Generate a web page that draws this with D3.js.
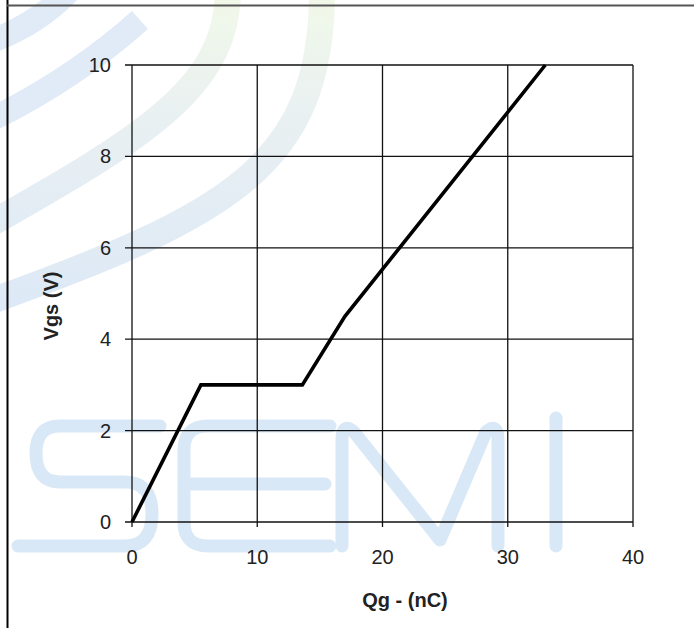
<!DOCTYPE html>
<html>
<head>
<meta charset="utf-8">
<script src="https://cdn.jsdelivr.net/npm/d3@7"></script>
<style>
	body { margin: 0; background: #fff; }
	text { font-family: "Liberation Sans", Arial, sans-serif; }
</style>
</head>
<body>
<div id="chart"></div>
<script>
	// gate charge curve
	const qg = [0, 5.5, 13.6, 17, 33];
	const vgs = [0, 3, 3, 4.5, 10];

	const xTicks = [0, 10, 20, 30, 40];
	const yTicks = [0, 2, 4, 6, 8, 10];
	const xTitle = "Qg - (nC)";
	const yTitle = "Vgs (V)";

	const width = 694;
	const height = 628;

	const svg = d3.select("#chart")
				.append("svg")
					.attr("width", width)
					.attr("height", height);

	// faint watermark behind everything
	const wm = svg.append("g").attr("fill", "none");
	const grad = svg.append("defs")
					.append("linearGradient")
						.attr("id", "band")
						.attr("gradientUnits", "userSpaceOnUse")
						.attr("x1", 0).attr("y1", 0)
						.attr("x2", 0).attr("y2", 300);
	grad.append("stop").attr("offset", "0%").attr("stop-color", "#f1f8e9");
	grad.append("stop").attr("offset", "40%").attr("stop-color", "#e9f0f2");
	grad.append("stop").attr("offset", "100%").attr("stop-color", "#dde9f6");

	[[228, 230], [322, 305]].forEach(([x0, yEnd]) => {
		wm.append("path")
			.attr("d", `M${x0},-10 C${x0},${yEnd - 140} ${x0 - 90},${yEnd - 90} -20,${yEnd}`)
			.attr("stroke", "url(#band)")
			.attr("stroke-width", 26);
	});
	[[70, -10, -20, 45], [140, 20, -20, 125]].forEach(([x1, y1, x2, y2]) => {
		wm.append("path")
			.attr("d", `M${x1},${y1} Q${(x1 + x2) / 2 + 10},${(y1 + y2) / 2 + 10} ${x2},${y2}`)
			.attr("stroke", "#e0ebf7")
			.attr("stroke-width", 24);
	});

	const letters = wm.append("g")
						.attr("stroke", "#d9e8f7")
						.attr("stroke-width", 13)
						.attr("stroke-linecap", "round")
						.attr("stroke-linejoin", "round");
	letters.append("path").attr("d", "M160,426 H60 Q36,426 36,453 Q36,482 60,482 H125 Q152,482 152,514 Q152,546 125,546 H18");
	letters.append("path").attr("d", "M330,426 H208 Q184,426 184,450 V522 Q184,546 208,546 H330 M184,484 H325");
	letters.append("path").attr("d", "M342,546 V440 Q342,422 354,432 L440,540 L486,432 Q498,422 498,440 V546");
	letters.append("path").attr("d", "M556,418 V546");

	// page frame
	svg.append("line")
		.attr("x1", 7.5).attr("x2", 7.5)
		.attr("y1", 0).attr("y2", height)
		.attr("stroke", "#000")
		.attr("stroke-width", 2);
	svg.append("line")
		.attr("x1", 7).attr("x2", width)
		.attr("y1", 5.5).attr("y2", 5.5)
		.attr("stroke", "#555")
		.attr("stroke-width", 2);

	// scales
	const x = d3.scaleLinear()
				.domain([0, 40])
				.range([132, 633]);
	const y = d3.scaleLinear()
				.domain([0, 10])
				.range([522, 65]);

	// grid
	const grid = svg.append("g").attr("stroke", "#111").attr("stroke-width", 1.3);
	grid.selectAll(".gx")
		.data(xTicks)
		.enter()
		.append("line")
			.attr("x1", (d) => x(d)).attr("x2", (d) => x(d))
			.attr("y1", y(10)).attr("y2", y(0) + 5);
	grid.selectAll(".gy")
		.data(yTicks)
		.enter()
		.append("line")
			.attr("x1", x(0) - 7).attr("x2", x(40))
			.attr("y1", (d) => y(d)).attr("y2", (d) => y(d));

	// tick labels
	svg.append("g")
		.selectAll("text")
		.data(yTicks)
		.enter()
		.append("text")
			.attr("x", x(0) - 21)
			.attr("y", (d) => y(d) + 7)
			.attr("text-anchor", "end")
			.attr("font-size", 20)
			.attr("fill", "#222")
			.text((d) => d);
	svg.append("g")
		.selectAll("text")
		.data(xTicks)
		.enter()
		.append("text")
			.attr("x", (d) => x(d))
			.attr("y", y(0) + 42)
			.attr("text-anchor", "middle")
			.attr("font-size", 20)
			.attr("fill", "#222")
			.text((d) => d);

	// axis titles
	svg.append("text")
		.attr("x", 405)
		.attr("y", 607)
		.attr("text-anchor", "middle")
		.attr("font-size", 20)
		.attr("font-weight", "bold")
		.attr("fill", "#222")
		.text(xTitle);
	svg.append("text")
		.attr("transform", "translate(58, 306) rotate(-90)")
		.attr("text-anchor", "middle")
		.attr("font-size", 20)
		.attr("font-weight", "bold")
		.attr("fill", "#222")
		.text(yTitle);

	// curve
	const line = d3.line()
					.x((d) => x(d.q))
					.y((d) => y(d.v));
	svg.append("path")
		.datum(qg.map((q, i) => ({ q: q, v: vgs[i] })))
			.attr("fill", "none")
			.attr("stroke", "#000")
			.attr("stroke-width", 3.6)
			.attr("stroke-linejoin", "miter")
			.attr("d", line);
</script>
</body>
</html>
